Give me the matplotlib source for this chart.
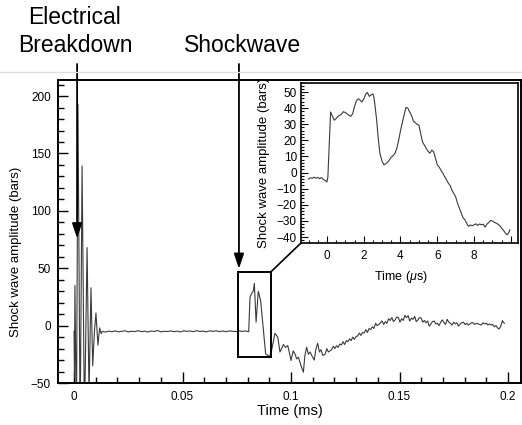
import matplotlib
matplotlib.use("Agg")
import matplotlib.pyplot as plt
from matplotlib.patches import Rectangle, ConnectionPatch
from matplotlib.lines import Line2D
from matplotlib.ticker import MultipleLocator
from matplotlib.transforms import blended_transform_factory

plt.rcParams['font.family'] = ['Liberation Sans', 'DejaVu Sans']
plt.rcParams['mathtext.fontset'] = 'custom'
plt.rcParams['mathtext.it'] = 'Liberation Sans:italic'
plt.rcParams['mathtext.rm'] = 'Liberation Sans'

# ---------------- data: main trace (time in ms, amplitude in bars) ----------------
osc_t = [0.0000, 0.0002, 0.0004, 0.0011, 0.0018, 0.0028, 0.0037, 0.0048, 0.0060,
         0.0069, 0.0078, 0.0086, 0.0094, 0.0101, 0.0110, 0.0118, 0.0125, 0.0130]
osc_v = [-5, -45, 35, -90, 193, -90, 139, -85, 68,
         -60, 33, -35, -5, 11, -17, -2, -7, -5]

flat_t = [0.0145, 0.016, 0.0175, 0.019, 0.0205, 0.022, 0.0235, 0.025, 0.0265, 0.028,
          0.0295, 0.031, 0.0325, 0.034, 0.0355, 0.037, 0.0385, 0.040, 0.0415, 0.043,
          0.0445, 0.046, 0.0475, 0.049, 0.0505, 0.052, 0.0535, 0.055, 0.0565, 0.058,
          0.0595, 0.061, 0.0625, 0.064, 0.0655, 0.067, 0.0685, 0.070, 0.0715, 0.073,
          0.0745, 0.076, 0.0775, 0.079, 0.0805]
flat_v = [-5.6, -4.8, -5.3, -4.6, -5.4, -5.0, -4.5, -5.5, -4.9, -5.2,
          -4.4, -5.3, -4.8, -5.6, -4.7, -5.1, -4.3, -5.4, -4.9, -5.2,
          -4.6, -5.3, -4.8, -5.5, -4.5, -5.0, -4.7, -5.3, -4.4, -5.1,
          -4.8, -5.4, -4.6, -5.0, -4.5, -5.2, -4.7, -5.3, -4.6, -4.9,
          -5.2, -4.6, -5.0, -4.7, -5.3]

shock_t = [0.0811, 0.0818, 0.0826, 0.0831, 0.0839, 0.0849, 0.0860, 0.0872, 0.0883,
           0.0900, 0.0908]
shock_v = [24.6, 28, 30, 36.8, 3, 29.9, 21.7, -2, -24.6, -27, -24]

wake_t = [0.0926, 0.0939, 0.0949, 0.0965, 0.0975, 0.0985, 0.0993, 0.1000, 0.1010,
          0.1018, 0.1026, 0.1034, 0.1046, 0.1057, 0.1064, 0.1072, 0.1080, 0.1088,
          0.1098, 0.1107, 0.1115, 0.1123, 0.1131, 0.1138, 0.1147, 0.1157]
wake_v = [-6.7, -10, -23, -16.5, -19, -17.4, -24, -30.4, -22,
          -24.6, -29, -27.5, -34.8, -40.6, -26, -18.8, -25, -23,
          -27, -30, -20, -15.4, -23, -21, -26, -25]

tail_t = [0.1165, 0.1172, 0.1180, 0.1187, 0.1195, 0.1202, 0.1210, 0.1217, 0.1225, 0.1232,
          0.1240, 0.1247, 0.1255, 0.1262, 0.1270, 0.1277, 0.1285, 0.1292, 0.1300, 0.1307,
          0.1315, 0.1322, 0.1330, 0.1337, 0.1345, 0.1352, 0.1360, 0.1367, 0.1375, 0.1382,
          0.1390, 0.1397, 0.1405, 0.1412, 0.1420, 0.1427, 0.1435, 0.1442, 0.1450, 0.1457,
          0.1465, 0.1472, 0.1480, 0.1487, 0.1495, 0.1502, 0.1510, 0.1517, 0.1525, 0.1532,
          0.1540, 0.1547, 0.1555, 0.1562, 0.1570, 0.1577, 0.1585, 0.1592, 0.1600, 0.1607,
          0.1615, 0.1622, 0.1630, 0.1637, 0.1645, 0.1652, 0.1660, 0.1667, 0.1675, 0.1682,
          0.1690, 0.1697, 0.1705, 0.1712, 0.1720, 0.1727, 0.1735, 0.1742, 0.1750, 0.1757,
          0.1765, 0.1772, 0.1780, 0.1787, 0.1795, 0.1802, 0.1810, 0.1817, 0.1825, 0.1832,
          0.1840, 0.1847, 0.1855, 0.1862, 0.1870, 0.1877, 0.1885, 0.1892, 0.1900, 0.1907,
          0.1915, 0.1922, 0.1930, 0.1937, 0.1945, 0.1952, 0.1958, 0.1966, 0.1974, 0.1983]
tail_v = [-20, -23, -22, -21, -18, -20, -17.5, -19, -16, -17,
          -14, -16.5, -13, -14, -11.5, -13, -10, -12, -9.5, -9,
          -6.5, -8.5, -6, -6.5, -3.5, -6, -2.5, -3.5, -1, -2.5,
          2, 0, 1, 2.5, 4, 1, 3.5, 2, 6, 4.5,
          7, 3.5, 5, 7.5, 7, 3, 6, 4.5, 9, 7,
          8.7, 4, 6.5, 5.5, 8, 3.5, 5, 7, 6.5, 3,
          4.5, 2.5, 4, -0.5, 1.5, 3.5, 4, 1.5, 2, 0,
          3, 5, 2.5, 1, 5.5, 3, 2, 0.5, 3, 1.5,
          2.5, -0.5, 1.5, 2.5, 3, 1, 2, 0.5, 1.5, 2.5,
          2.5, 1, 2, 1.5, 1, 0.5, 2.5, 1.5, 2, 0.5,
          1.5, 0.5, 1, -1, 0, -2, -3, -1, 4.3, 2]

main_t = osc_t + flat_t + shock_t + wake_t + tail_t
main_v = osc_v + flat_v + shock_v + wake_v + tail_v

# ---------------- data: inset trace (time in microseconds) ----------------
inset_t = [-1.0, -0.9, -0.8, -0.7, -0.6, -0.5, -0.4, -0.3, -0.2, -0.1, 0.0, 0.05,
           0.2, 0.3, 0.4, 0.5, 0.6, 0.7, 0.8, 0.9, 1.0, 1.1, 1.2, 1.3, 1.4, 1.5,
           1.6, 1.7, 1.8, 1.9, 2.0, 2.1, 2.2, 2.3, 2.4, 2.5, 2.55, 2.6, 2.7, 2.8,
           2.88, 3.0, 3.1, 3.2, 3.3, 3.4, 3.5, 3.6, 3.7, 3.8, 3.9, 4.0, 4.1, 4.2,
           4.3, 4.4, 4.5, 4.6, 4.7, 4.8, 4.9, 5.0, 5.1, 5.2, 5.3, 5.4, 5.5, 5.6,
           5.7, 5.8, 5.9, 6.0, 6.1, 6.2, 6.3, 6.4, 6.5, 6.6, 6.7, 6.8, 6.9, 7.0,
           7.1, 7.2, 7.3, 7.4, 7.5, 7.6, 7.7, 7.8, 7.9, 8.0, 8.1, 8.2, 8.3, 8.4,
           8.5, 8.6, 8.7, 8.8, 8.9, 9.0, 9.1, 9.2, 9.3, 9.4, 9.5, 9.6, 9.7, 9.8,
           9.9, 9.95]
inset_v = [-4.0, -3.2, -3.6, -2.8, -3.5, -3.0, -3.8, -3.1, -4.2, -4.8, -5.8, -3.0,
           37.6, 35.0, 32.5, 33.5, 35.0, 35.5, 36.5, 37.8, 37.2, 36.5, 35.5, 35.0, 36.5, 41.0,
           44.5, 45.8, 45.0, 43.8, 45.5, 48.5, 49.8, 47.3, 48.2, 48.8, 47.0, 43.0, 33.0, 20.0,
           12.0, 7.0, 4.8, 5.5, 6.3, 8.0, 9.6, 10.5, 12.0, 15.0, 20.0, 26.0, 31.0, 36.0,
           40.5, 40.0, 37.5, 35.5, 32.0, 31.0, 30.0, 29.5, 24.0, 19.0, 17.0, 15.0, 13.2, 12.0,
           14.0, 13.0, 9.0, 4.8, 3.5, 1.5, -0.3, -2.5, -4.5, -6.5, -8.0, -11.0, -13.0, -15.0,
           -19.0, -22.0, -25.0, -28.0, -29.3, -31.5, -33.4, -32.5, -33.0, -32.4, -31.8, -32.8, -31.9, -32.4,
           -32.0, -33.8, -32.0, -31.0, -29.7, -30.0, -30.8, -31.4, -32.0, -33.0, -34.5, -35.8, -37.5, -38.6,
           -37.0, -35.5]

main_xticks = [0, 0.05, 0.1, 0.15, 0.2]
main_xticklabels = ['0', '0.05', '0.1', '0.15', '0.2']
main_yticks = [-50, 0, 50, 100, 150, 200]
inset_xticks = [0, 2, 4, 6, 8, 10]
inset_xticklabels = ['0', '2', '4', '6', '8', '']
inset_yticks = [-40, -30, -20, -10, 0, 10, 20, 30, 40, 50]

# zoom box (ms, bars)
box_t = [0.0756, 0.0908]
box_v = [-27, 47]

W, H = 522, 425
fig = plt.figure(figsize=(W / 100, H / 100), dpi=100)

def px_rect(l, t, r, b):
    return [l / W, 1 - b / H, (r - l) / W, (b - t) / H]

ax = fig.add_axes(px_rect(58, 80, 521, 383))
ax.plot(main_t, main_v, color='#3a3a3a', lw=0.8)
ax.set_xlim(-0.0074, 0.206)
ax.set_ylim(-50, 214)
ax.set_xticks(main_xticks)
ax.set_xticklabels(main_xticklabels)
ax.set_yticks(main_yticks)
ax.xaxis.set_minor_locator(MultipleLocator(0.01))
ax.yaxis.set_minor_locator(MultipleLocator(10))
ax.tick_params(which='both', direction='in', top=False, right=False, labelsize=8.5, width=1.0)
ax.tick_params(axis='x', which='major', length=8, pad=6)
ax.tick_params(axis='x', which='minor', length=4)
ax.tick_params(axis='y', which='major', length=7, pad=5)
ax.tick_params(axis='y', which='minor', length=4)
for s in ax.spines.values():
    s.set_linewidth(1.4)
ax.set_xlabel('Time (ms)', fontsize=10.5)
ax.xaxis.set_label_coords(0.5, -0.068)
ax.set_ylabel('Shock wave amplitude (bars)', fontsize=9.5)
ax.yaxis.set_label_coords(-0.078, 0.432)

ax.add_patch(Rectangle((box_t[0], box_v[0]), box_t[1] - box_t[0], box_v[1] - box_v[0],
                       fill=False, lw=1.4, ec='black', zorder=5))

# arrows
tr = blended_transform_factory(ax.transData, fig.transFigure)
for xa, ya in [(0.0014, 76), (0.0760, 49.5)]:
    ax.annotate('', xy=(xa, ya), xycoords='data', xytext=(xa, 1 - 64 / H), textcoords=tr,
                arrowprops=dict(arrowstyle='-|>,head_length=0.9,head_width=0.3',
                                color='black', lw=1.3, shrinkA=0, shrinkB=0),
                annotation_clip=False, zorder=6)

fig.text(75 / W, 1 - 17 / H, 'Electrical', ha='center', va='center', fontsize=16.5)
fig.text(75 / W, 1 - 45 / H, 'Breakdown', ha='center', va='center', fontsize=16.5)
fig.text(243 / W, 1 - 45 / H, 'Shockwave', ha='center', va='center', fontsize=16.5)

fig.add_artist(Line2D([0, 1], [1 - 72 / H, 1 - 72 / H], transform=fig.transFigure,
                      color='#dddddd', lw=1.0))

# inset
axi = fig.add_axes(px_rect(301, 83, 518, 243))
axi.plot(inset_t, inset_v, color='#3a3a3a', lw=0.8)
axi.set_xlim(-1.41, 10.39)
axi.set_ylim(-43.7, 55.6)
axi.set_xticks(inset_xticks)
axi.set_xticklabels(inset_xticklabels)
axi.set_yticks(inset_yticks)
axi.xaxis.set_minor_locator(MultipleLocator(0.5))
axi.yaxis.set_minor_locator(MultipleLocator(2))
axi.tick_params(which='both', direction='in', top=False, right=False, labelsize=8.5, width=0.8)
axi.tick_params(which='major', length=5)
axi.tick_params(which='minor', length=2.5)
axi.tick_params(axis='x', pad=5)
axi.tick_params(axis='y', pad=3)
for s in axi.spines.values():
    s.set_linewidth(1.2)
axi.set_xlabel('Time ($\\mu$s)', fontsize=9)
axi.xaxis.set_label_coords(0.459, -0.1625)
axi.set_ylabel('Shock wave amplitude (bars)', fontsize=9.5)
axi.yaxis.set_label_coords(-0.143, 0.5)

con = ConnectionPatch(xyA=(box_t[1], box_v[1]), coordsA=ax.transData,
                      xyB=(0, 0), coordsB=axi.transAxes, color='black', lw=1.2)
fig.add_artist(con)

fig.savefig('out.png', dpi=100)
